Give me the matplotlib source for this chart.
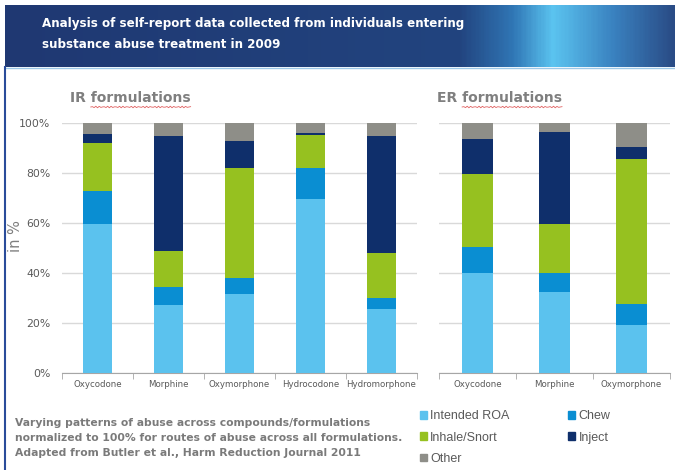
import numpy as np
import matplotlib
matplotlib.use("Agg")
import matplotlib.pyplot as plt
from matplotlib.colors import LinearSegmentedColormap
from matplotlib.patches import Rectangle
from matplotlib.lines import Line2D

# Cumulative shares (% of respondents) read as the top edge of each segment.
ir_drugs = ["Oxycodone", "Morphine", "Oxymorphone", "Hydrocodone", "Hydromorphone"]
ir_intended = [59.6, 27.1, 31.6, 69.6, 25.5]
ir_chew = [13.1, 7.3, 6.4, 12.2, 4.7]
ir_inhale = [19.1, 14.3, 43.8, 13.3, 17.9]
ir_inject = [3.6, 46.0, 10.8, 0.7, 46.6]

er_drugs = ["Oxycodone", "Morphine", "Oxymorphone"]
er_intended = [40.1, 32.6, 19.3]
er_chew = [10.4, 7.3, 8.5]
er_inhale = [28.9, 19.7, 57.8]
er_inject = [14.2, 36.7, 4.6]

routes = ["Intended ROA", "Chew", "Inhale/Snort", "Inject", "Other"]
colors = ["#5BC2EE", "#0A8ED2", "#96C120", "#0F2F6B", "#8E8E88"]

W, H = 675, 470
fig = plt.figure(figsize=(W / 100, H / 100), dpi=100)
fig.patch.set_facecolor("white")

def px(x0, y0, x1, y1):
    # pixel box (top-left origin) -> figure fraction rect
    return [x0 / W, 1 - y1 / H, (x1 - x0) / W, (y1 - y0) / H]

# blue banner with a light streak towards the right
ban = fig.add_axes(px(5, 5, 675, 67))
cmap = LinearSegmentedColormap.from_list("banner", [
    (0.0, "#1F3872"), (0.68, "#22447F"), (0.76, "#3076B5"),
    (0.82, "#5BC4F0"), (0.91, "#3A82C0"), (1.0, "#2A4C86")])
ban.imshow(np.linspace(0, 1, 400)[None, :], aspect="auto", cmap=cmap,
           extent=[0, 1, 0, 1])
ban.set_axis_off()
for y, line in [(24, "Analysis of self-report data collected from individuals entering"),
                (45, "substance abuse treatment in 2009")]:
    fig.text(42 / W, 1 - y / H, line, color="white", fontsize=8.6,
             fontweight="bold", va="center")
fig.add_artist(Line2D([5 / W, 1], [1 - 68 / H] * 2, color="#9CC8E8", lw=1))
fig.add_artist(Line2D([5 / W] * 2, [0, 1 - 67 / H], color="#2A4C9A", lw=1.5))

def panel(rect, drugs, parts):
    ax = fig.add_axes(rect)
    x = np.arange(len(drugs))
    bottom = np.zeros(len(drugs))
    for vals, c in zip(parts, colors[:4]):
        ax.bar(x, vals, 0.41, bottom=bottom, color=c, zorder=3)
        bottom = bottom + np.array(vals)
    ax.bar(x, 100 - bottom, 0.41, bottom=bottom, color=colors[4], zorder=3)
    ax.set_xlim(-0.5, len(drugs) - 0.5)
    ax.set_ylim(0, 100)
    ax.set_yticks(np.arange(0, 101, 20))
    ax.grid(axis="y", color="#D9D9D9", lw=1, zorder=0)
    for s in ["top", "right", "left"]:
        ax.spines[s].set_visible(False)
    ax.spines["bottom"].set_color("#A6A6A6")
    ax.set_xticks(x)
    ax.set_xticklabels(drugs, fontsize=6.2, color="#595959")
    ax.set_xticks(np.arange(-0.5, len(drugs)), minor=True)
    ax.tick_params(axis="x", which="major", length=0, pad=5)
    ax.tick_params(axis="x", which="minor", length=4, color="#A6A6A6")
    ax.tick_params(axis="y", length=0, labelsize=7.8, labelcolor="#595959", pad=8.5)
    return ax

ax1 = panel(px(62, 122.7, 417, 373.3), ir_drugs,
            [ir_intended, ir_chew, ir_inhale, ir_inject])
ax1.set_yticklabels([f"{v}%" for v in range(0, 101, 20)])
ax2 = panel(px(439, 122.7, 670, 373.3), er_drugs,
            [er_intended, er_chew, er_inhale, er_inject])
ax2.set_yticklabels([])
fig.text(15 / W, 1 - 236 / H, "in %", rotation=90, fontsize=10.5, color="#7F7F7F",
         ha="center", va="center")

# panel headings, with a red squiggle under the second word
fig.canvas.draw()
rend = fig.canvas.get_renderer()
for x0, word in [(70, "IR"), (437, "ER")]:
    t = fig.text(x0 / W, 1 - 98 / H, f"{word} formulations", fontsize=10,
                 fontweight="bold", color="#7F7F7F", va="center")
    pre = fig.text(x0 / W, 1 - 98 / H, f"{word} ", fontsize=10,
                   fontweight="bold", color="#7F7F7F", va="center", alpha=0)
    bb, bp = t.get_window_extent(rend), pre.get_window_extent(rend)
    xs = np.linspace(bp.x1, bb.x1, 60)
    ys = (bb.y0 - 2) + 0.8 * np.sin((xs - xs[0]) * 1.6)
    fig.add_artist(Line2D(xs / W, ys / H, color="#E06060", lw=0.6))

fig.text(15 / W, 1 - 438 / H,
         "Varying patterns of abuse across compounds/formulations\n"
         "normalized to 100% for routes of abuse across all formulations.\n"
         "Adapted from Butler et al., Harm Reduction Journal 2011",
         fontsize=7.75, fontweight="bold", color="#7A7A7A",
         va="center", linespacing=1.6)

# legend filled column by column: put Chew and Inject in the second column
order = [0, 2, 4, 1, 3]
handles = [Rectangle((0, 0), 1, 1, color=colors[i]) for i in order]
leg = fig.legend(handles, [routes[i] for i in order], loc="upper left",
                 bbox_to_anchor=(409 / W, 1 - 399 / H), ncol=2, frameon=False,
                 handlelength=0.55, handleheight=0.55, handletextpad=0.25,
                 columnspacing=4.7, labelspacing=0.75,
                 prop={"family": ["Liberation Sans", "DejaVu Sans"], "size": 9})
for txt in leg.get_texts():
    txt.set_color("#595959")

fig.savefig("out.png", dpi=100)
